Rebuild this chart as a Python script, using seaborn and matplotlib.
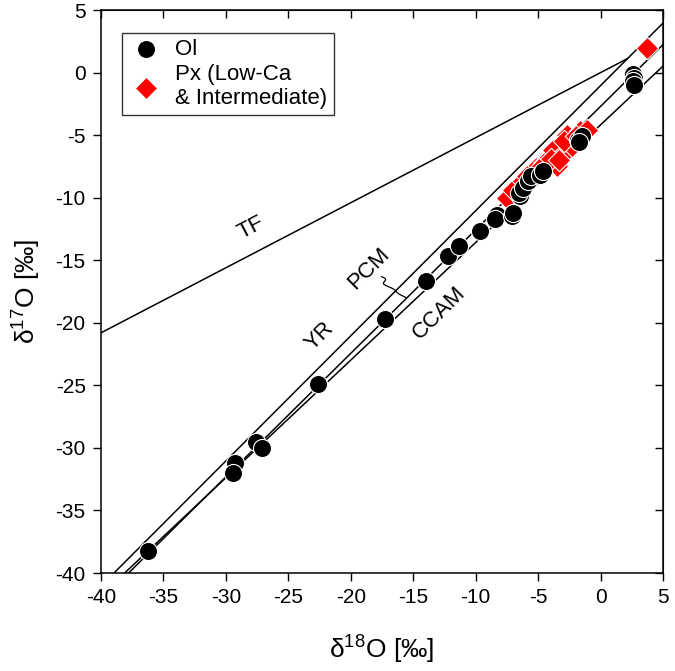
import numpy as np
import pandas as pd
import matplotlib.pyplot as plt
import seaborn as sns

# Ol measurements (d18O, d17O)
ol_d18 = [-36.26, -29.25, -29.44, -27.57, -27.11, -22.63, -17.26, -14.00, -12.19, -11.34,
          -9.66, -8.32, -8.45, -7.12, -7.00, -6.45, -6.55, -6.19, -5.80, -5.60,
          -4.83, -4.60, -1.79, -1.45, -1.70, 2.60, 2.70, 2.60, 2.65]
ol_d17 = [-38.26, -31.18, -31.98, -29.52, -30.00, -24.85, -19.66, -16.68, -14.62, -13.88,
          -12.68, -11.35, -11.70, -11.50, -11.25, -9.88, -9.60, -9.20, -8.68, -8.30,
          -8.15, -7.85, -5.35, -5.10, -5.55, -0.10, -0.40, -0.70, -1.00]

# Px (Low-Ca & Intermediate)
px_d18 = [3.69, -7.50, -6.97, -6.20, -5.63, -5.20, -4.56, -3.79, -3.50, -3.10,
          -2.70, -2.32, -1.65, -1.10, -4.00, -2.90, -5.90, -2.00, -3.30, -4.90]
px_d17 = [1.98, -10.00, -9.35, -8.70, -8.00, -7.60, -7.20, -6.15, -7.49, -6.55,
          -4.95, -5.90, -4.69, -4.55, -6.90, -5.50, -8.30, -5.10, -7.00, -7.70]

# reference lines: slope, intercept, x range
line_names = ["TF", "YR", "PCM", "CCAM"]
line_slopes = [0.52, 1.00, 0.987, 0.94]
line_icepts = [0.0, -1.04, -2.70, -4.18]
line_xmin = [-40, -40, -40, -40]
line_xmax = [2.17, 5, 5, 5]

sns.set_style("ticks")
plt.rcParams["font.family"] = ["Liberation Sans", "DejaVu Sans"]
plt.rcParams["mathtext.fontset"] = "custom"
plt.rcParams["mathtext.rm"] = "Liberation Sans"
plt.rcParams["axes.unicode_minus"] = False
plt.rcParams["text.color"] = "black"
plt.rcParams["axes.labelcolor"] = "black"

fig = plt.figure(figsize=(6.75, 6.71), dpi=100)
ax = fig.add_axes([0.1496, 0.146, 0.8326, 0.839])

for s, b, x0, x1 in zip(line_slopes, line_icepts, line_xmin, line_xmax):
    xs = np.array([x0, x1])
    ax.plot(xs, s * xs + b, color="black", lw=1.1, zorder=1)

ol = pd.DataFrame({"d18": ol_d18, "d17": ol_d17})
px = pd.DataFrame({"d18": px_d18, "d17": px_d17})
sns.scatterplot(data=px, x="d18", y="d17", marker="D", color="#ff0000", s=130,
                edgecolor="white", linewidth=0.8, ax=ax, zorder=3,
                label="Px (Low-Ca\n& Intermediate)")
sns.scatterplot(data=ol, x="d18", y="d17", marker="o", color="black", s=170,
                edgecolor="white", linewidth=0.8, ax=ax, zorder=4, label="Ol")

# line labels
lab_kw = dict(ha="center", va="center", fontsize=16, color="black")
ax.text(-28.0, -12.4, "TF", rotation=27.5, **lab_kw)
ax.text(-18.6, -15.7, "PCM", rotation=45, **lab_kw)
ax.text(-22.5, -21.1, "YR", rotation=45, **lab_kw)
ax.text(-12.9, -19.2, "CCAM", rotation=45, **lab_kw)

# squiggle from the PCM label down to its line
t = np.linspace(0, 1, 80)
sx = -17.55 + 2.0 * t ** 1.6 + 0.3 * np.sin(t * 4 * np.pi) * (1 - t)
sy = -16.3 - 1.7 * t
ax.plot(sx, sy, color="black", lw=0.9, zorder=2)

ax.set_xlim(-40, 5)
ax.set_ylim(-40, 5)
ax.set_xticks(np.arange(-40, 6, 5))
ax.set_yticks(np.arange(-40, 6, 5))
ax.tick_params(direction="out", length=6, width=1, labelsize=15, colors="black", pad=5)
for sp in ax.spines.values():
    sp.set_visible(True)
    sp.set_linewidth(1.1)
    sp.set_color("black")

top = ax.secondary_xaxis("top")
top.set_xticks(np.arange(-40, 6, 5))
top.tick_params(direction="in", length=6, width=1, labeltop=False, colors="black")
right = ax.secondary_yaxis("right")
right.set_yticks(np.arange(-40, 6, 5))
right.tick_params(direction="in", length=6, width=1, labelright=False, colors="black")

ax.set_xlabel("$\\mathrm{\u03b4}^{18}$O [\u2030]", fontsize=19, labelpad=18)
ax.set_ylabel("$\\mathrm{\u03b4}^{17}$O [\u2030]", fontsize=19, labelpad=10)

h, l = ax.get_legend_handles_labels()
leg = ax.legend(h[::-1], l[::-1], loc="upper left", bbox_to_anchor=(0.037, 0.96),
                frameon=True, fancybox=False, edgecolor="black", fontsize=16,
                handletextpad=0.5, borderpad=0.3, labelspacing=0.15,
                handlelength=1.6, borderaxespad=0)
leg.get_frame().set_linewidth(1.0)
for txt in leg.get_texts():
    txt.set_color("black")

fig.savefig("out.png", dpi=100)
